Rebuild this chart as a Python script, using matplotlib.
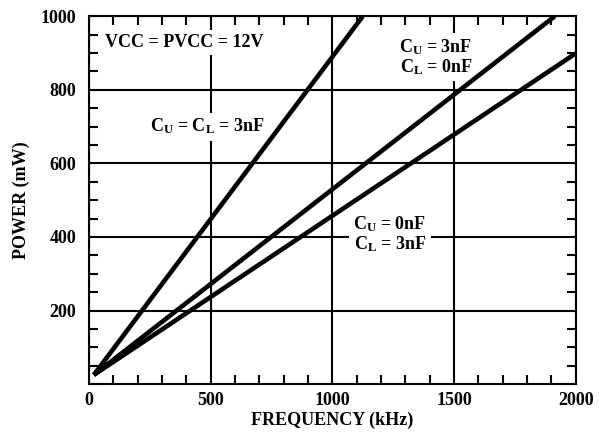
import matplotlib
matplotlib.use("Agg")
import matplotlib.pyplot as plt
from matplotlib.ticker import MultipleLocator

plt.rcParams["font.family"] = ["Liberation Serif", "DejaVu Serif"]
plt.rcParams["font.weight"] = "bold"
plt.rcParams["mathtext.fontset"] = "custom"
plt.rcParams["mathtext.rm"] = "Liberation Serif:bold"
plt.rcParams["mathtext.it"] = "Liberation Serif:bold"
plt.rcParams["mathtext.bf"] = "Liberation Serif:bold"

# end points (kHz, mW)
freq_both = [20, 1125]
power_both = [25, 1000]

freq_upper = [20, 1914]
power_upper = [25, 1000]

freq_lower = [20, 2000]
power_lower = [25, 899]

x_ticks = [0, 500, 1000, 1500, 2000]
y_ticks = [200, 400, 600, 800, 1000]

FS = 13


def main():
    fig = plt.figure(figsize=(6.01, 4.38), dpi=100)
    ax = fig.add_axes([0.148, 0.123, 0.810, 0.840])

    ax.set_xlim(0, 2000)
    ax.set_ylim(0, 1000)
    ax.set_xticks(x_ticks)
    ax.set_yticks(y_ticks)
    ax.xaxis.set_minor_locator(MultipleLocator(100))
    ax.yaxis.set_minor_locator(MultipleLocator(50))
    ax.tick_params(which="both", direction="in", top=True, right=True,
                   labelsize=FS)
    ax.tick_params(which="major", length=0)
    ax.tick_params(axis="x", which="major", pad=6)
    ax.tick_params(axis="y", which="major", pad=9)
    ax.tick_params(which="minor", length=6.5, width=1.5)
    for lab in ax.get_xticklabels() + ax.get_yticklabels():
        lab.set_fontweight("bold")

    ax.grid(True, which="major", color="black", linewidth=1.5, zorder=1)
    for sp in ax.spines.values():
        sp.set_linewidth(1.5)
        sp.set_zorder(5)

    for fx, py in [(freq_both, power_both), (freq_upper, power_upper),
                   (freq_lower, power_lower)]:
        ax.plot(fx, py, color="black", linewidth=3.3, solid_capstyle="butt",
                zorder=3)

    box = dict(facecolor="white", edgecolor="none", pad=3)
    ax.text(66, 928, "VCC = PVCC = 12V", fontsize=FS, fontweight="bold",
            ha="left", va="center", bbox=box, zorder=2)
    ax.text(485, 700, r"C$_\mathrm{U}$ = C$_\mathrm{L}$ = 3nF", fontsize=FS,
            fontweight="bold", ha="center", va="center", bbox=box, zorder=2)
    ax.text(1425, 889, "C$_\\mathrm{U}$ = 3nF\nC$_\\mathrm{L}$ = 0nF",
            fontsize=FS, fontweight="bold", ha="center", va="center",
            linespacing=1.0, bbox=box, zorder=2)
    ax.text(1236, 408, "C$_\\mathrm{U}$ = 0nF\nC$_\\mathrm{L}$ = 3nF",
            fontsize=FS, fontweight="bold", ha="center", va="center",
            linespacing=1.0, bbox=box, zorder=2)

    ax.set_xlabel("FREQUENCY (kHz)", fontsize=FS, fontweight="bold",
                  labelpad=1.5)
    ax.set_ylabel("POWER (mW)", fontsize=FS, fontweight="bold", labelpad=8)

    fig.savefig("out.png", dpi=100)


if __name__ == "__main__":
    main()
